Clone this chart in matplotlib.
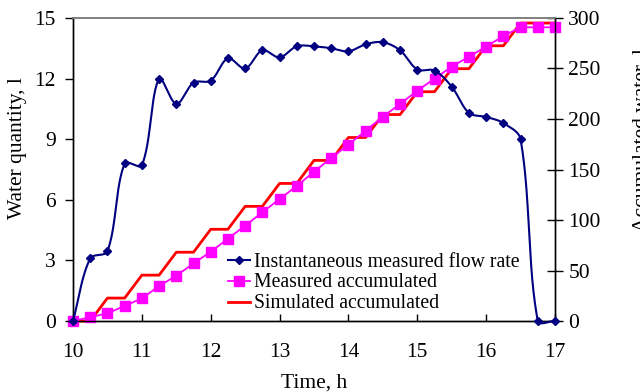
import numpy as np
import matplotlib
matplotlib.use("Agg")
import matplotlib.pyplot as plt
from matplotlib.lines import Line2D

plt.rcParams['font.family'] = ['Liberation Serif', 'DejaVu Serif']

time_h = [10 + 0.25 * i for i in range(29)]
flow_rate = [0, 3.1, 3.45, 7.8, 7.7, 12.0, 10.75, 11.8, 11.9, 13.0, 12.5, 13.4, 13.05,
             13.6, 13.6, 13.5, 13.35, 13.7, 13.8, 13.4, 12.45, 12.4, 11.6, 10.3, 10.1,
             9.8, 9.0, 0, 0]
measured_acc = [0, 3.7, 7.6, 14.9, 22.4, 34.6, 44.9, 57.0, 68.6, 81.5, 94.4, 107.6, 120.8,
                133.7, 147.8, 161.4, 174.6, 188.4, 202.3, 214.9, 228.0, 240.0, 251.8,
                261.7, 271.6, 282.2, 290.8, 290.8, 290.8]
simulated_acc = [0, 0, 22.7, 22.7, 45.4, 45.4, 68.1, 68.1, 90.8, 90.8, 113.5, 113.5,
                 136.2, 136.2, 159.0, 159.0, 181.7, 181.7, 204.4, 204.4, 227.0, 227.0,
                 249.8, 249.8, 272.5, 272.5, 295.0, 295.0, 295.0]
x_ticks = [10, 11, 12, 13, 14, 15, 16, 17]
left_ticks = [0, 3, 6, 9, 12, 15]
right_ticks = [0, 50, 100, 150, 200, 250, 300]


def smooth(ax, x, y, n=30):
    # Bezier smoothing through the data points (spreadsheet-style smoothed line),
    # control points weighted by on-screen segment lengths
    P = ax.transData.transform(np.column_stack([x, y]))
    m = len(P)
    out = []
    t = np.linspace(0, 1, n)[:, None]
    for i in range(m - 1):
        p0 = P[i - 1] if i > 0 else P[i]
        p1, p2 = P[i], P[i + 1]
        p3 = P[i + 2] if i + 2 < m else P[i + 1]
        d01 = np.hypot(*(p1 - p0)); d12 = np.hypot(*(p2 - p1)); d23 = np.hypot(*(p3 - p2))
        k1 = d12 / (d01 + d12) / 3.0 if d01 + d12 > 0 else 0
        k2 = d12 / (d12 + d23) / 3.0 if d12 + d23 > 0 else 0
        c1 = p1 + (p2 - p0) * k1
        c2 = p2 - (p3 - p1) * k2
        b = (1 - t) ** 3 * p1 + 3 * (1 - t) ** 2 * t * c1 + 3 * (1 - t) * t ** 2 * c2 + t ** 3 * p2
        out.append(b)
    out = np.vstack(out)
    D = ax.transData.inverted().transform(out)
    return D[:, 0], D[:, 1]


fig = plt.figure(figsize=(6.4, 3.92), dpi=100)
ax = fig.add_axes([0.1141, 0.1811, 0.7531, 0.773])
ax2 = ax.twinx()

ax.set_xlim(10, 17)
ax.set_ylim(0, 15)
ax2.set_ylim(0, 300)

navy = '#000080'
sx, sy = smooth(ax, time_h, flow_rate)
ax.plot(sx, sy, color=navy, lw=1.5, zorder=3, clip_on=False)
ax.plot(time_h, flow_rate, ls='none', marker='D', ms=4.5, color=navy, zorder=4, clip_on=False)

ax2.plot(time_h, simulated_acc, color='#FF0000', lw=2.0, zorder=3, clip_on=False)
ax2.plot(time_h, measured_acc, color='#FF00FF', lw=1.3, marker='s', ms=6.5, zorder=4, clip_on=False)

ax.set_xticks(x_ticks)
ax.set_yticks(left_ticks)
ax2.set_yticks(right_ticks)

ax.tick_params(axis='x', direction='in', length=5, width=1, labelsize=15.5, pad=16)
ax.tick_params(axis='y', direction='out', length=6, width=1, labelsize=15.5, pad=6.5)
ax2.tick_params(axis='y', direction='inout', length=11, width=1, labelsize=15.5, pad=4)

for a in (ax, ax2):
    a.spines['top'].set_color('#808080')
    a.spines['top'].set_linewidth(1.2)
    for s in ('left', 'right', 'bottom'):
        a.spines[s].set_color('black')
        a.spines[s].set_linewidth(1.0)
ax.set_zorder(ax2.get_zorder() + 1)
ax.patch.set_visible(False)

ax.set_xlabel('Time, h', fontsize=15.5, labelpad=8)
fig.text(0.027, 0.622, 'Water quantity, l', rotation=90, fontsize=15.5,
         ha='center', va='center')
fig.text(1.0035, 0.643, 'Accumulated water, l', rotation=90, fontsize=15.5,
         ha='center', va='center')

handles = [
    Line2D([], [], color=navy, lw=1.5, marker='D', ms=4.5),
    Line2D([], [], color='#FF00FF', lw=1.3, marker='s', ms=6.5),
    Line2D([], [], color='#FF0000', lw=2.0),
]
labels = ['Instantaneous measured flow rate', 'Measured accumulated', 'Simulated accumulated']
ax.legend(handles, labels, loc='upper left', bbox_to_anchor=(0.321, 0.226),
          frameon=False, fontsize=14.2, handlelength=1.15, handletextpad=0.2,
          labelspacing=0.1, borderpad=0, borderaxespad=0)

fig.savefig('out.png', dpi=100)
